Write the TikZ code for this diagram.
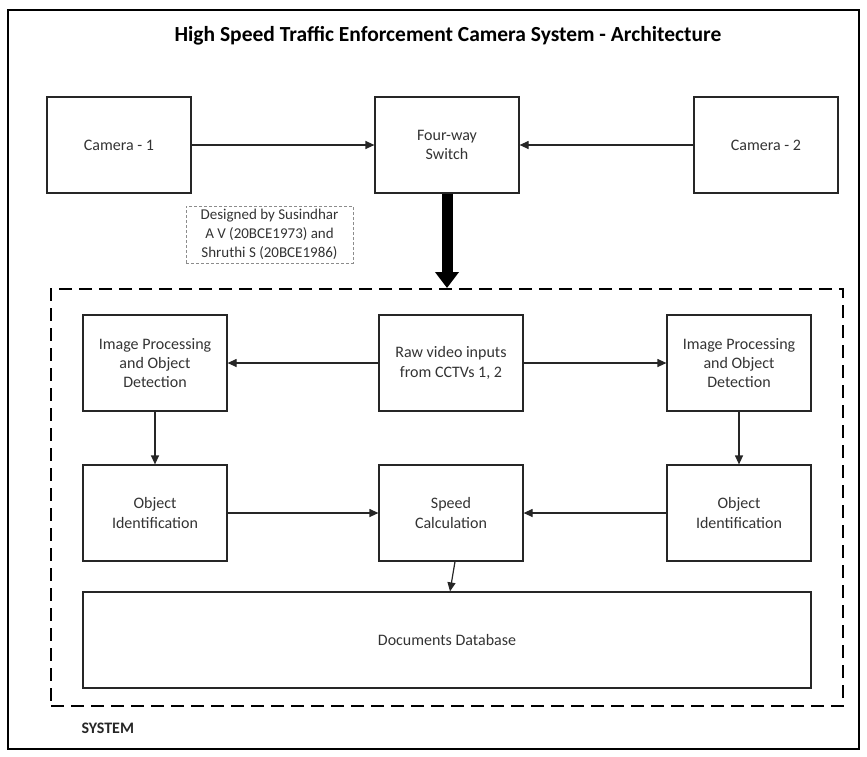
\documentclass[tikz,border=0pt]{standalone}
\usepackage{fontspec}
\setmainfont{Carlito}
\usepackage{tikz}
\usetikzlibrary{arrows.meta, positioning}

\begin{document}
\begin{tikzpicture}[x=1pt, y=-1pt,
        block/.style={draw=black!85, line width=1.2pt, minimum width=144pt, minimum height=96pt,
            align=center, font=\fontsize{16}{19.2}\selectfont, text=black!80, inner sep=2pt},
        link/.style={draw=black!85, line width=1.2pt, -{Triangle[length=9pt,width=8pt]}}]
        \useasboundingbox (0,0) rectangle (867,756);
        \draw[line width=2.5pt] (8,10) rectangle (859,749);
        \node (title) at (448,36) {\fontsize{21.5}{24}\selectfont\bfseries High Speed Traffic Enforcement Camera System - Architecture};
        % cameras and switch
        \node[block] (cam1) at (119,145) {Camera - 1};
        \node[block] (switch) at (447,145) {Four-way\\Switch};
        \node[block] (cam2) at (766,145) {Camera - 2};
        \node[draw=black!45, dash pattern=on 3pt off 2pt, line width=0.8pt, minimum width=167pt, minimum height=57pt,
            align=center, font=\fontsize{15}{18.8}\selectfont, text=black!80, inner sep=1pt] (note) at (269.5,234.5)
            {Designed by Susindhar\\A V (20BCE1973) and\\Shruthi S (20BCE1986)};
        % system boundary
        \node[draw, line width=2pt, dash pattern=on 13pt off 7pt, minimum width=792pt, minimum height=417pt] (system) at (447,497.5) {};
        \node[anchor=west, font=\fontsize{16}{18}\selectfont\bfseries, text=black!85] (syslabel) at (78,728) {SYSTEM};
        % processing blocks
        \node[block] (ipl) at (155,363) {Image Processing\\and Object\\Detection};
        \node[block] (raw) at (451,363) {Raw video inputs\\from CCTVs 1, 2};
        \node[block] (ipr) at (739,363) {Image Processing\\and Object\\Detection};
        \node[block] (oil) at (155,513) {Object\\Identification};
        \node[block] (speed) at (451,513) {Speed\\Calculation};
        \node[block] (oir) at (739,513) {Object\\Identification};
        \node[block, minimum width=728pt] (db) at (447,640) {Documents Database};
        % connectors
        \draw[link] (cam1) -- (switch);
        \draw[link] (cam2) -- (switch);
        \draw[line width=11pt, -{Triangle[length=16pt,width=23pt]}] (switch.south) -- (switch.south |- system.north);
        \draw[link] (raw) -- (ipl);
        \draw[link] (raw) -- (ipr);
        \draw[link] (ipl) -- (oil);
        \draw[link] (ipr) -- (oir);
        \draw[link] (oil) -- (speed);
        \draw[link] (oir) -- (speed);
        \draw[link] ([xshift=4pt]speed.south) -- ([xshift=3pt]db.north);
    \end{tikzpicture}
\end{document}
